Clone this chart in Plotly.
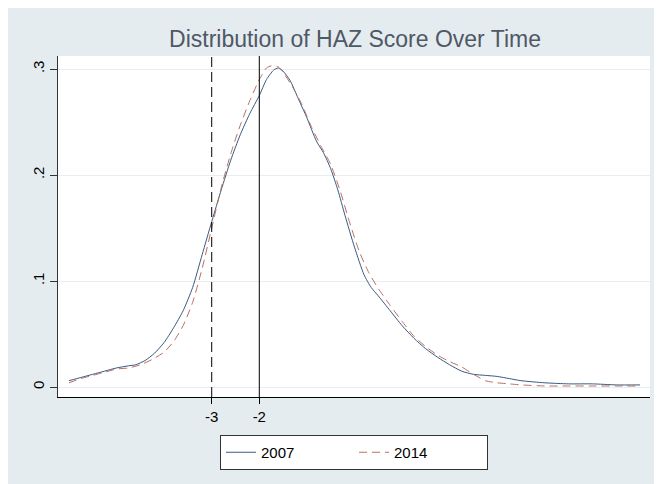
import plotly.graph_objects as go

# ---- data ----
haz_2007 = [-6.0, -5.75, -5.5, -5.25, -5.0, -4.75, -4.6, -4.4, -4.2, -4.0, -3.8, -3.6, -3.4, -3.2,
            -3.0, -2.8, -2.6, -2.4, -2.2, -2.0, -1.85, -1.7, -1.6, -1.5, -1.35, -1.2, -1.0, -0.8,
            -0.65, -0.5, -0.35, -0.2, 0.0, 0.2, 0.35, 0.5, 0.75, 1.0, 1.25, 1.5, 1.75, 2.0, 2.25,
            2.5, 2.75, 3.0, 3.25, 3.5, 4.0, 4.5, 5.0, 5.5, 6.0]
dens_2007 = [0.006, 0.009, 0.012, 0.015, 0.018, 0.020, 0.021, 0.025, 0.032, 0.042, 0.056, 0.072,
             0.094, 0.125, 0.156, 0.186, 0.214, 0.238, 0.258, 0.275, 0.290, 0.299, 0.301, 0.298,
             0.289, 0.274, 0.254, 0.232, 0.221, 0.206, 0.186, 0.162, 0.132, 0.106, 0.094, 0.086,
             0.072, 0.058, 0.046, 0.036, 0.028, 0.021, 0.015, 0.012, 0.011, 0.010, 0.008, 0.006,
             0.004, 0.003, 0.003, 0.002, 0.002]

haz_2014 = [-6.0, -5.75, -5.5, -5.25, -5.0, -4.75, -4.5, -4.25, -4.0, -3.8, -3.6, -3.4, -3.2,
            -3.0, -2.8, -2.6, -2.4, -2.2, -2.0, -1.85, -1.75, -1.6, -1.5, -1.3, -1.1, -0.9, -0.7,
            -0.5, -0.3, -0.1, 0.1, 0.3, 0.5, 0.75, 1.0, 1.25, 1.5, 1.75, 2.0, 2.25, 2.5, 2.75,
            3.0, 3.25, 3.5, 4.0, 4.5, 5.0, 5.5, 6.0]
dens_2014 = [0.004, 0.008, 0.011, 0.014, 0.017, 0.018, 0.021, 0.026, 0.033, 0.043, 0.058, 0.080,
             0.112, 0.150, 0.188, 0.220, 0.247, 0.270, 0.290, 0.301, 0.303, 0.302, 0.297, 0.283,
             0.266, 0.245, 0.227, 0.210, 0.185, 0.155, 0.128, 0.108, 0.093, 0.077, 0.062, 0.048,
             0.038, 0.030, 0.024, 0.019, 0.012, 0.006, 0.004, 0.003, 0.002, 0.001, 0.001, 0.001,
             0.001, 0.001]

series_names = ["2007", "2014"]
x_ticks = [-3, -2]
x_tick_labels = ["-3", "-2"]
y_ticks = [0, 0.1, 0.2, 0.3]
y_tick_labels = ["0", ".1", ".2", ".3"]
cutoffs = [-3, -2]          # dashed at -3, solid at -2
title_text = "Distribution of HAZ Score Over Time"

BG = "#e5ecef"
FONT = "Liberation Sans, Arial, sans-serif"

fig = go.Figure()
fig.add_trace(go.Scatter(x=haz_2007, y=dens_2007, mode="lines", name=series_names[0],
                         line=dict(color="#3a5a80", width=1, shape="spline", smoothing=0.6)))
fig.add_trace(go.Scatter(x=haz_2014, y=dens_2014, mode="lines", name=series_names[1],
                         line=dict(color="#b87060", width=1, dash="8px,5px",
                                   shape="spline", smoothing=0.6)))

# vertical reference lines
fig.add_shape(type="line", xref="x", yref="paper", x0=cutoffs[0], x1=cutoffs[0], y0=0, y1=1,
              line=dict(color="black", width=1, dash="10px,5px"))
fig.add_shape(type="line", xref="x", yref="paper", x0=cutoffs[1], x1=cutoffs[1], y0=0, y1=1,
              line=dict(color="black", width=1))

# the page body adds an 8px offset; figure coordinates below are screen minus 8
L, R, T, B = 50, 20, 48, 95
W, H = 662, 484
pw, ph = W - L - R, H - T - B

fig.update_layout(
    width=W, height=H,
    margin=dict(l=L, r=R, t=T, b=B),
    paper_bgcolor=BG, plot_bgcolor="white",
    font=dict(family=FONT, size=15, color="black"),
    title=dict(text=title_text, x=(347 - L) / pw, xref="paper", xanchor="center",
               y=1 - 31 / H, yanchor="middle",
               font=dict(family=FONT, size=23, color="#4f5866")),
    showlegend=True,
    legend=dict(orientation="h", x=0.5, xanchor="center", y=-(427 - (H - B)) / ph, yanchor="top",
                bgcolor="white", bordercolor="#333333", borderwidth=1,
                font=dict(family=FONT, size=15, color="black"),
                entrywidth=88, entrywidthmode="pixels", traceorder="normal"),
    xaxis=dict(range=[-6.23, 6.21], tickvals=x_ticks, ticktext=x_tick_labels,
               showgrid=False, zeroline=False, showline=True, linecolor="black", linewidth=1,
               ticks="outside", ticklen=6, tickcolor="black", tickwidth=1,
               tickfont=dict(family=FONT, size=15, color="black"), mirror=False),
    yaxis=dict(range=[-0.0094, 0.3123], tickvals=y_ticks, ticktext=y_tick_labels,
               showgrid=True, gridcolor="#e8eef0", gridwidth=1, zeroline=False,
               showline=True, linecolor="#333333", linewidth=1,
               ticks="outside", ticklen=7, tickcolor="#333333", tickwidth=1, tickangle=-90,
               tickfont=dict(family=FONT, size=15, color="black")),
)

fig.write_html("out.html")
